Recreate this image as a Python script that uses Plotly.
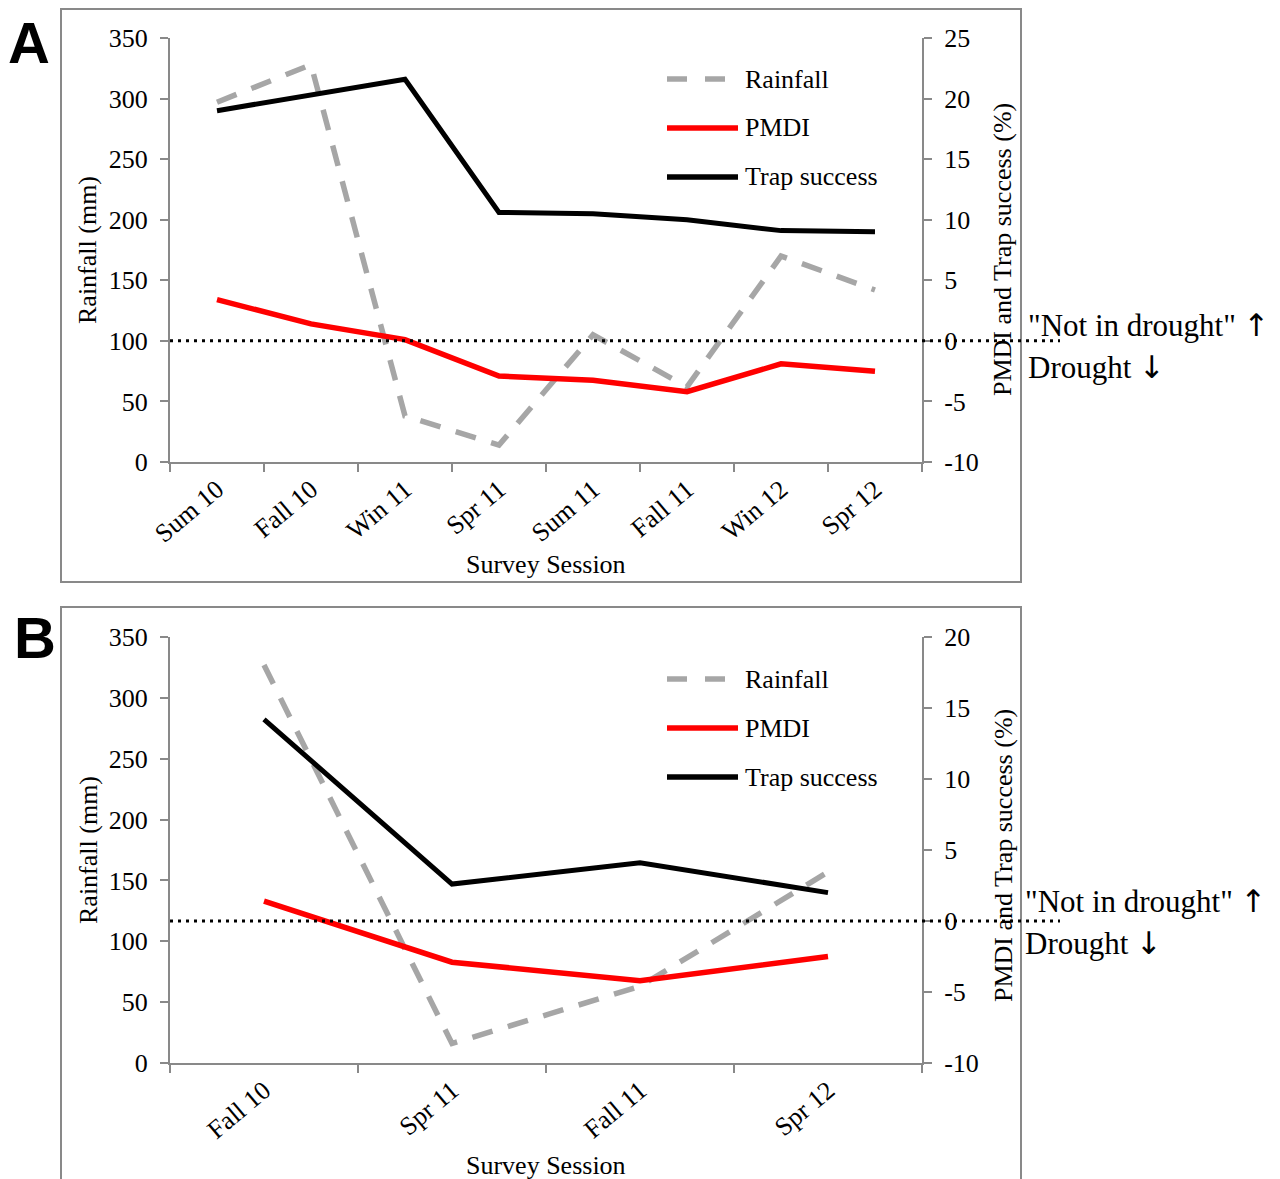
import plotly.graph_objects as go

# ---------------- data ----------------
sessions_a = ["Sum 10", "Fall 10", "Win 11", "Spr 11", "Sum 11", "Fall 11", "Win 12", "Spr 12"]
rain_a = [297, 328, 38, 14, 105, 62, 170, 142]
pmdi_a = [3.4, 1.4, 0.1, -2.9, -3.25, -4.2, -1.9, -2.5]
trap_a = [19.0, 20.3, 21.6, 10.6, 10.5, 10.0, 9.1, 9.0]

sessions_b = ["Fall 10", "Spr 11", "Fall 11", "Spr 12"]
rain_b = [327, 16, 63, 157]
pmdi_b = [1.4, -2.9, -4.2, -2.5]
trap_b = [14.2, 2.6, 4.1, 2.0]

rain_ticks = [0, 50, 100, 150, 200, 250, 300, 350]
right_ticks_a = [-10, -5, 0, 5, 10, 15, 20, 25]
right_ticks_b = [-10, -5, 0, 5, 10, 15, 20]

# ---------------- styling ----------------
# The page body has an 8px margin, so the figure is drawn 8px smaller and all
# layout positions (given in window pixels) are shifted by that offset.
OFF = 8
W, H = 1280 - OFF, 1179 - OFF
SERIF = "Liberation Serif, Times New Roman, serif"
SANS = "Liberation Sans, Arial, sans-serif"
AXC = "#898989"
GRAY = "#A6A6A6"
FS = 26


def px(x):
    return (x - OFF) / W


def py(y):
    return 1 - (y - OFF) / H


xdom = [px(170), px(922)]
ydom_a = [py(462), py(38)]
ydom_b = [py(1063), py(637)]

fig = go.Figure()

rain_line = dict(color=GRAY, width=5.5, dash="21px,16px")
pmdi_line = dict(color="#FF0000", width=5.5)
trap_line = dict(color="#000000", width=5)

# Panel A
fig.add_trace(go.Scatter(x=sessions_a, y=rain_a, mode="lines", name="Rainfall",
                         line=rain_line, xaxis="x", yaxis="y", showlegend=False))
fig.add_trace(go.Scatter(x=sessions_a, y=pmdi_a, mode="lines", name="PMDI",
                         line=pmdi_line, xaxis="x", yaxis="y2", showlegend=False))
fig.add_trace(go.Scatter(x=sessions_a, y=trap_a, mode="lines", name="Trap success",
                         line=trap_line, xaxis="x", yaxis="y2", showlegend=False))
# Panel B
fig.add_trace(go.Scatter(x=sessions_b, y=rain_b, mode="lines", name="Rainfall",
                         line=rain_line, xaxis="x2", yaxis="y3", showlegend=False))
fig.add_trace(go.Scatter(x=sessions_b, y=pmdi_b, mode="lines", name="PMDI",
                         line=pmdi_line, xaxis="x2", yaxis="y4", showlegend=False))
fig.add_trace(go.Scatter(x=sessions_b, y=trap_b, mode="lines", name="Trap success",
                         line=trap_line, xaxis="x2", yaxis="y4", showlegend=False))

tickfont = dict(family=SERIF, size=FS, color="black")
common_axis = dict(showline=True, linecolor=AXC, linewidth=2, ticks="outside",
                   ticklen=8, tickwidth=2, tickcolor=AXC, showgrid=False,
                   zeroline=False, tickfont=tickfont, fixedrange=True, automargin=False)


def xax(cats, anchor):
    return dict(domain=xdom, anchor=anchor, type="category", categoryorder="array",
                categoryarray=cats, range=[-0.5, len(cats) - 0.5], tickson="boundaries",
                tickangle=-40, **common_axis)


def yax_left(dom, anchor):
    return dict(domain=dom, anchor=anchor, range=[0, 350], tickmode="array",
                tickvals=rain_ticks, ticktext=[str(t) for t in rain_ticks],
                ticklabelstandoff=7, **common_axis)


def yax_right(over, anchor, ticks):
    return dict(overlaying=over, side="right", anchor=anchor,
                range=[ticks[0], ticks[-1]], tickmode="array",
                tickvals=ticks, ticktext=[str(t) for t in ticks],
                ticklabelstandoff=7, **common_axis)


fig.update_layout(
    width=W, height=H, autosize=False,
    margin=dict(l=0, r=0, t=0, b=0, pad=0, autoexpand=False),
    paper_bgcolor="white", plot_bgcolor="white",
    showlegend=False,
    xaxis=xax(sessions_a, "y"),
    yaxis=yax_left(ydom_a, "x"),
    yaxis2=yax_right("y", "x", right_ticks_a),
    xaxis2=xax(sessions_b, "y3"),
    yaxis3=yax_left(ydom_b, "x2"),
    yaxis4=yax_right("y3", "x2", right_ticks_b),
)

shapes = []
annotations = []

# panel borders
shapes.append(dict(type="rect", xref="paper", yref="paper", x0=px(61), x1=px(1021),
                   y0=py(582), y1=py(9), line=dict(color=AXC, width=2), layer="below"))
shapes.append(dict(type="rect", xref="paper", yref="paper", x0=px(61), x1=px(1021),
                   y0=py(1200), y1=py(607), line=dict(color=AXC, width=2), layer="below"))

# drought reference lines (PMDI = 0)
for yref in ["y2", "y4"]:
    shapes.append(dict(type="line", xref="paper", yref=yref, x0=px(170), x1=px(1060),
                       y0=0, y1=0, line=dict(color="black", width=3, dash="3px,5px")))

# manual legends
legend_items = [("Rainfall", GRAY, "20px,18px"), ("PMDI", "#FF0000", "solid"),
                ("Trap success", "#000000", "solid")]
for base in [0, 600]:
    for i, (name, col, dash) in enumerate(legend_items):
        yy = base + 79 + 49 * i
        x_end = 728 if name == "Rainfall" else 738
        shapes.append(dict(type="line", xref="paper", yref="paper", x0=px(667), x1=px(x_end),
                           y0=py(yy), y1=py(yy), line=dict(color=col, width=5.5, dash=dash)))
        annotations.append(dict(xref="paper", yref="paper", x=px(743), y=py(yy), text=name,
                                showarrow=False, xanchor="left", yanchor="middle",
                                font=dict(family=SERIF, size=FS, color="black")))

# axis titles
for base, rcenter in [(0, 250), (600, 856)]:
    annotations.append(dict(xref="paper", yref="paper", x=px(88), y=py(base + 250),
                            text="Rainfall (mm)", textangle=-90, showarrow=False,
                            xanchor="center", yanchor="middle",
                            font=dict(family=SERIF, size=FS, color="black")))
    annotations.append(dict(xref="paper", yref="paper", x=px(1003), y=py(rcenter),
                            text="PMDI and Trap success (%)", textangle=-90, showarrow=False,
                            xanchor="center", yanchor="middle",
                            font=dict(family=SERIF, size=FS, color="black")))
    annotations.append(dict(xref="paper", yref="paper", x=px(546), y=py(base + 565),
                            text="Survey Session", showarrow=False,
                            xanchor="center", yanchor="middle",
                            font=dict(family=SERIF, size=FS, color="black")))

# panel letters
for lab, lx, ltop in [("A", 29, 9), ("B", 35, 604)]:
    annotations.append(dict(xref="paper", yref="paper", x=px(lx), y=py(ltop),
                            text="<b>%s</b>" % lab, showarrow=False,
                            xanchor="center", yanchor="top", borderpad=0,
                            font=dict(family=SANS, size=58, color="black")))

ARROW = '<span style="font-family:DejaVu Sans">%s</span>'
for nx, ny in [(1026, 325), (1023, 901)]:
    annotations.append(dict(xref="paper", yref="paper", x=px(nx), y=py(ny),
                            text="\"Not in drought\" " + ARROW % "\u2191", showarrow=False,
                            xanchor="left", yanchor="middle",
                            font=dict(family=SERIF, size=31, color="black")))
    annotations.append(dict(xref="paper", yref="paper", x=px(nx), y=py(ny + 42),
                            text="Drought " + ARROW % "\u2193", showarrow=False,
                            xanchor="left", yanchor="middle",
                            font=dict(family=SERIF, size=31, color="black")))

fig.update_layout(shapes=shapes, annotations=annotations)

fig.write_html("out.html", config={"displayModeBar": False})
